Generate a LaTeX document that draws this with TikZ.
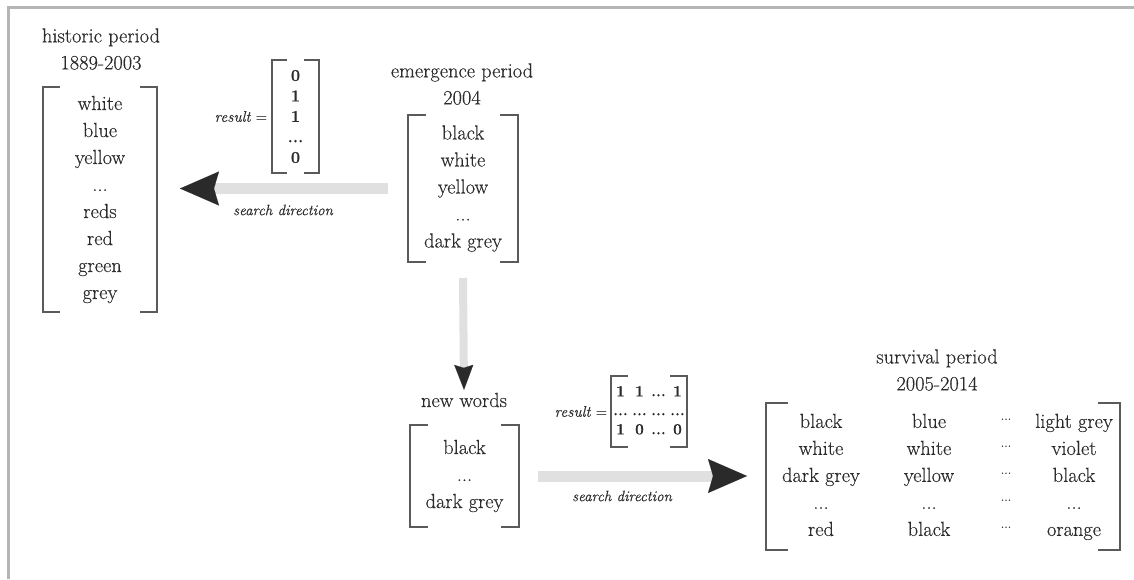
\documentclass[tikz,border=0pt]{standalone}
\usepackage{fontspec}
\setmainfont{Latin Modern Roman}[FakeBold=0.35]
\usepackage{array}
\usetikzlibrary{arrows.meta}
\newcolumntype{C}[1]{>{\centering\arraybackslash}p{#1}}
\definecolor{txt}{HTML}{2C2C2C}
\definecolor{brk}{HTML}{5A5A5A}
\definecolor{shaftgray}{HTML}{E0E0E0}
\definecolor{headgray}{HTML}{2A2A2A}
\definecolor{framegray}{HTML}{B5B5B5}
\newcommand\bigtxt{\fontsize{20.4}{27}\selectfont}
\newcommand\brackets[2]{%
  \draw[brline] ([xshift=#2]#1.north west) -| (#1.south west) -- ([xshift=#2]#1.south west);
  \draw[brline] ([xshift=-#2]#1.north east) -| (#1.south east) -- ([xshift=-#2]#1.south east);}
\begin{document}
\begin{tikzpicture}[x=1pt,y=-1pt,
  every node/.style={text=txt, inner sep=0pt, outer sep=0pt},
  box/.style={align=center, font=\bigtxt},
  title/.style={align=center, font=\bigtxt},
  brline/.style={draw=brk, line width=1.3pt},
  lab/.style={font=\fontsize{15}{17}\selectfont\itshape},
  res/.style={font=\fontsize{15.5}{17}\selectfont},
  vecbox/.style={align=center, font=\fontsize{16.5}{20.5}\selectfont\bfseries},
  shaftH/.style={line width=11pt, draw=shaftgray,
    -{Stealth[length=39pt,width=34pt,inset=5pt,line width=0.1pt,color=headgray]}},
  shaftV/.style={line width=8pt, draw=shaftgray,
    -{Stealth[length=25pt,width=19pt,inset=3pt,line width=0.1pt,color=headgray]}},
  framestroke/.style={draw=framegray, line width=3pt}]
\useasboundingbox (0,0) rectangle (1134,579);
\draw[framestroke] (8.5,579) -- (8.5,7.5) -- (1134,7.5);

% historic
\node[title] (histT) at (101,49) {historic period\\1889-2003};
\node[box, minimum width=114pt, minimum height=225pt] (hist) at (100,199.5)
  {white\\blue\\yellow\\...\\reds\\red\\green\\grey};
\brackets{hist}{17pt}

% emergence
\node[title] (emT) at (462,84) {emergence period\\2004};
\node[box, minimum width=110pt, minimum height=147pt] (em) at (463,188.5)
  {black\\white\\yellow\\...\\dark grey};
\brackets{em}{18pt}

% result vector
\node[vecbox, minimum width=47pt, minimum height=113pt] (vec) at (295.5,116.5)
  {0\\1\\1\\...\\0};
\brackets{vec}{15pt}
\node[res, anchor=east] (res1) at ([xshift=-5pt]vec.west) {\textit{result} =};

% left arrow
\draw[shaftH] ([xshift=-20pt]em.west) -- ([xshift=23pt]hist.east |- em.west);
\node[lab] (sd1) at (283,210) {search direction};

% new words
\node[title] (nwT) at (464,400) {new words};
\draw[shaftV] ([yshift=-16pt]em.south) -- ([yshift=3pt]nwT.north);
\node[box, minimum width=109pt, minimum height=102pt] (nw) at (464.5,476)
  {black\\...\\dark grey};
\brackets{nw}{18pt}

% result matrix
\node[minimum width=76pt, minimum height=71pt] (mat) at (649,411.5)
  {\fontsize{15.5}{19}\selectfont\bfseries
   \begin{tabular}{@{}C{19pt}@{}C{19pt}@{}C{19pt}@{}C{19pt}@{}}
   1 & 1 & ... & 1\\ ... & ... & ... & ...\\ 1 & 0 & ... & 0
   \end{tabular}};
\brackets{mat}{17pt}
\node[res, anchor=east] (res2) at ([xshift=-4pt]mat.west) {\textit{result} =};

% survival
\node[title] (svT) at (937,370) {survival period\\2005-2014};
\node[minimum width=354pt, minimum height=147pt] (surv) at (943,476.5)
  {\raisebox{5pt}{\bigtxt
   \begin{tabular}{@{}C{108pt}@{}C{108pt}@{}C{46pt}@{}C{90pt}@{}}
   black & blue & \raisebox{8pt}{\fontsize{13}{13}\selectfont...} & light grey\\
   white & white & \raisebox{8pt}{\fontsize{13}{13}\selectfont...} & violet\\
   dark grey & yellow & \raisebox{8pt}{\fontsize{13}{13}\selectfont...} & black\\
   ... & ... & \raisebox{8pt}{\fontsize{13}{13}\selectfont...} & ...\\
   red & black & \raisebox{8pt}{\fontsize{13}{13}\selectfont...} & orange
   \end{tabular}}};
\brackets{surv}{22pt}

% right arrow
\draw[shaftH] ([xshift=19pt]nw.east) -- ([xshift=-19pt]surv.west |- nw.east);
\node[lab] (sd2) at (622,496) {search direction};
\end{tikzpicture}
\end{document}
